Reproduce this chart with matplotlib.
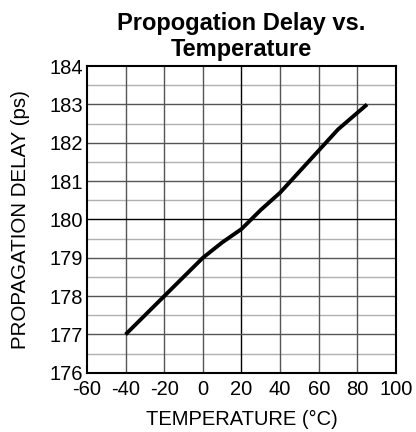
import matplotlib
matplotlib.use("Agg")
import matplotlib.pyplot as plt
import numpy as np

plt.rcParams['font.family'] = ['Liberation Sans', 'DejaVu Sans']
plt.rcParams['axes.unicode_minus'] = False

# curve
temp = [-40, -30, -20, -10, 0, 10, 20, 25, 30, 40, 50, 60, 70, 85]
delay = [177.0, 177.5, 178.0, 178.5, 179.0, 179.4, 179.75, 180.0, 180.25, 180.7, 181.25, 181.8, 182.35, 183.0]

x_ticks = [-60, -40, -20, 0, 20, 40, 60, 80, 100]
y_ticks = [176, 177, 178, 179, 180, 181, 182, 183, 184]

fig = plt.figure(figsize=(4.16, 4.32), dpi=100)
ax = fig.add_axes([0.209, 0.137, 0.743, 0.710])

# light minor grid at half steps
for y in np.arange(176.5, 184, 1.0):
    ax.axhline(y, color='#b0b0b0', lw=1.0, zorder=1)
for x in x_ticks[1:-1]:
    ax.axvline(x, color='black' if x == 20 else '#555555', lw=1.0, zorder=2)
for y in y_ticks[1:-1]:
    ax.axhline(y, color='black' if y == 180 else '#555555', lw=1.0, zorder=2)

ax.plot(temp, delay, color='black', lw=2.8, zorder=3, solid_capstyle='butt')

ax.set_xlim(-60, 100)
ax.set_ylim(176, 184)
ax.set_xticks(x_ticks)
ax.set_yticks(y_ticks)
ax.tick_params(length=0, labelsize=14.5)
ax.tick_params(axis='x', pad=5)
ax.tick_params(axis='y', pad=3)
for s in ax.spines.values():
    s.set_linewidth(1.5)

ax.set_xlabel("TEMPERATURE (°C)", fontsize=14.5, labelpad=8)
ax.set_ylabel("PROPAGATION DELAY (ps)", fontsize=14.8, labelpad=14)
ax.set_title("Propogation Delay vs.\nTemperature", fontsize=17, fontweight='bold', linespacing=1.2, pad=7)

fig.savefig("out.png", dpi=100)
